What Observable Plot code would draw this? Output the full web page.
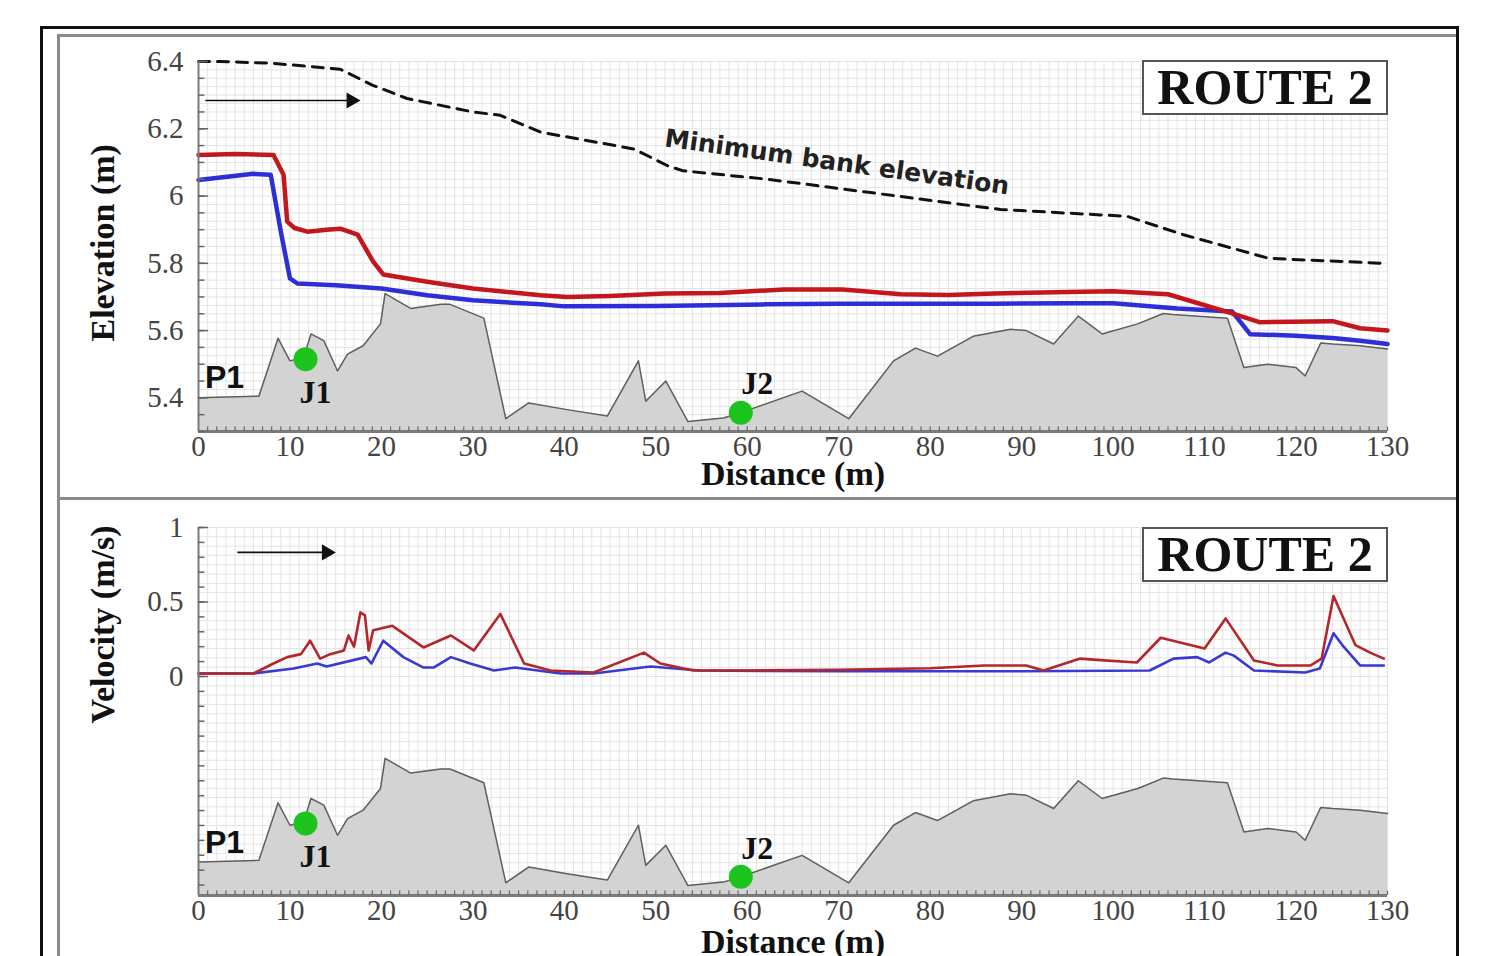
<!DOCTYPE html>
<html><head><meta charset="utf-8">
<script src="https://cdn.jsdelivr.net/npm/d3@7"></script>
<script src="https://cdn.jsdelivr.net/npm/@observablehq/plot@0.6"></script>
<style>
body{margin:0;background:#fff;width:1493px;height:956px;overflow:hidden;position:relative;font-family:"Liberation Serif",serif}
#outer{position:absolute;left:40px;top:26px;width:1413px;height:960px;border:3px solid #111;border-bottom:none}
.panel{position:absolute;left:57px;width:1396px;border:3px solid #8a8a8a;border-right:none}
#p1{top:34px;height:460px}
#p2{top:497px;height:480px;border-bottom:none}
.route{position:absolute;left:1142px;width:242px;height:51px;border:2px solid #555;background:#fff;
 font:bold 50px "Liberation Serif",serif;color:#111;text-align:center;line-height:51px;z-index:5}
svg.plot{position:absolute;left:58px;z-index:3}
</style></head>
<body>
<div id="outer"></div>
<div class="panel" id="p1"></div>
<div class="panel" id="p2"></div>
<div class="route" style="top:60px">ROUTE 2</div>
<div class="route" style="top:527px">ROUTE 2</div>
<script>
// ---------- data ----------
const xTickLabels = [0,10,20,30,40,50,60,70,80,90,100,110,120,130];
const elevTickLabels = [5.4,5.6,5.8,6,6.2,6.4];
const velTickLabels = [0,0.5,1];

const terrainX = [0,6.6,8.7,10,11.5,12.3,13.7,15.2,16.3,18,19.9,20.4,23.2,26.5,27.5,31.2,33.6,36.1,40.3,44.7,48.1,48.9,51.1,53.5,57.4,59.3,66,71.1,76,78.4,80.8,84.7,88.8,90.5,93.5,96.2,98.8,102.7,105.5,106.5,112.5,114.3,116.9,120,121,122.7,124,127,130];
const terrainElev = [5.4,5.405,5.577,5.51,5.52,5.59,5.57,5.48,5.53,5.555,5.62,5.71,5.666,5.678,5.678,5.637,5.338,5.385,5.365,5.346,5.51,5.39,5.45,5.33,5.34,5.356,5.42,5.338,5.51,5.548,5.524,5.583,5.604,5.60,5.56,5.643,5.59,5.62,5.651,5.648,5.637,5.49,5.50,5.49,5.465,5.563,5.56,5.555,5.545];

const maxWseX = [0,4,8.2,9.3,9.7,10.5,11.9,14,15.5,17.4,19.1,20.2,25,30,37.4,40.3,45,51,57,64,70.4,76.8,82,87,95,100,106,113,116,124,127,130];
const maxWseY = [6.122,6.125,6.122,6.063,5.924,5.905,5.894,5.9,5.903,5.885,5.805,5.767,5.745,5.725,5.705,5.70,5.703,5.71,5.712,5.722,5.722,5.708,5.706,5.71,5.715,5.717,5.708,5.651,5.625,5.628,5.607,5.600];

const wseX = [0,6,7.9,9,10,10.8,15,20,25,30,37.4,40,50,62,70,77,87,95,100,107,113,115,120,124,127,130];
const wseY = [6.048,6.066,6.063,5.894,5.755,5.74,5.735,5.725,5.705,5.69,5.678,5.672,5.673,5.678,5.68,5.68,5.68,5.681,5.681,5.666,5.657,5.589,5.585,5.578,5.57,5.56];

const bankX = [0,2.4,8,15.5,19,22.8,30,33,37.4,47.6,51.3,53,62.2,73,82,87.7,98.6,101.5,107.7,113,117,121,129.6];
const bankY = [6.4,6.4,6.395,6.377,6.33,6.29,6.25,6.24,6.19,6.14,6.09,6.075,6.05,6.012,5.98,5.96,5.944,5.94,5.885,5.845,5.815,5.81,5.80];

const velMaxX = [0,6,8.2,9.7,11.2,12.2,13.3,14.4,15.9,16.4,17,17.7,18.2,18.6,19.1,21.2,24.6,27.6,30.1,33,35.6,38.5,43.2,48.7,50.5,54.1,60,70,80,85.9,90.5,92.4,96.4,98.6,102.6,105.2,110,112.3,115.4,118,121.6,122.8,124.1,126.5,128.1,129.6];
const velMaxY = [0.02,0.02,0.087,0.13,0.15,0.24,0.12,0.15,0.175,0.275,0.2,0.43,0.41,0.175,0.31,0.34,0.195,0.275,0.175,0.42,0.087,0.04,0.027,0.16,0.087,0.04,0.04,0.045,0.055,0.074,0.074,0.04,0.12,0.11,0.094,0.26,0.188,0.39,0.107,0.074,0.074,0.12,0.54,0.21,0.16,0.12];

const velX = [0,6,10.4,13,14,18.3,18.9,20.2,22.4,24.6,25.7,27.6,29.7,32.3,34.6,39.6,43.2,49.4,54.8,70,90,104,106.6,109.2,110.5,112.3,113.2,115.4,121,122.6,124.1,125.2,127,129.6];
const velY = [0.02,0.02,0.054,0.087,0.067,0.13,0.087,0.24,0.13,0.06,0.06,0.13,0.087,0.04,0.06,0.02,0.02,0.067,0.04,0.035,0.035,0.04,0.12,0.13,0.094,0.16,0.14,0.04,0.027,0.054,0.29,0.2,0.074,0.074];

const junctionNames = ["J1","J2"];
const junctionX = [11.7,59.3];
const junctionElev = [5.515,5.356];

// ---------- helpers ----------
const zip = (xs, ys) => xs.map((x,i)=>({x, y: ys[i]}));
const ELEV = [5.3, 6.4], VEL = [-1.47, 1.0];
const toV = e => VEL[0] + (e - ELEV[0]) * (VEL[1]-VEL[0])/(ELEV[1]-ELEV[0]);

const terrain = zip(terrainX, terrainElev);
const junctions = junctionNames.map((n,i)=>({n, x: junctionX[i], y: junctionElev[i]}));

const GRID = "#e4e4e4", AX = "#7a7a7a", TICKC = "#444";
const serif = "Liberation Serif";

function panel(opts) {
  const {yDomain, gridY, minorY, yTicks, yFmt, conv, marks, yLabel, yLabelDy, height, mt, mb, xLabelDy, arrowY, arrowX1, arrowX2} = opts;
  const y0 = yDomain[0];
  const ySpan = yDomain[1]-yDomain[0];
  const ter = terrain.map(d=>({x:d.x, y: conv(d.y)}));
  const jn = junctions.map(d=>({...d, y: conv(d.y)}));
  return Plot.plot({
    width: 1397, height, marginLeft: 140, marginRight: 68, marginTop: mt, marginBottom: mb,
    x: {domain: [0,130]}, y: {domain: yDomain},
    style: {background: "transparent", overflow: "visible"},
    className: "plot",
    marks: [
      Plot.ruleX(d3.range(1,131), {stroke: GRID, strokeWidth: 1}),
      Plot.ruleY(gridY, {stroke: GRID, strokeWidth: 1}),
      Plot.areaY(ter, {x: "x", y1: y0, y2: "y", fill: "#d3d3d3"}),
      Plot.line(ter, {x: "x", y: "y", stroke: "#5f5f5f", strokeWidth: 1.5}),
      ...marks,
      // flow arrow
      Plot.ruleY([arrowY], {x1: arrowX1, x2: arrowX2 - 1.2, stroke: "#111", strokeWidth: 1.6}),
      Plot.dot([{x: arrowX2 - 1.0, y: arrowY}], {x: "x", y: "y", symbol: "triangle", rotate: 90, r: 6, fill: "#111", stroke: "none"}),
      // junctions
      Plot.dot(jn, {x: "x", y: "y", r: 12, fill: "#1ec41e", stroke: "none"}),
      Plot.text([{t:"P1", x: 0.7, y: conv(5.459)}], {x: "x", y: "y", text: "t", textAnchor: "start",
        fontFamily: "Liberation Sans", fontWeight: "bold", fontSize: 32, fill: "#111"}),
      Plot.text(jn, {x: d => d.x + (d.n==="J1" ? 1.1 : 1.8), y: d => d.n==="J1" ? conv(5.415) : conv(5.441), text: "n",
        fontFamily: serif, fontWeight: "bold", fontSize: 32, fill: "#111"}),
      // axes
      Plot.ruleX([0], {stroke: AX, strokeWidth: 2}),
      Plot.ruleY([y0], {stroke: AX, strokeWidth: 3}),
      Plot.ruleY(minorY, {x1: 0, x2: 0.7, stroke: "#666", strokeWidth: 1.5}),
      Plot.ruleY(yTicks, {x1: 0, x2: 1.1, stroke: "#666", strokeWidth: 1.5}),
      Plot.ruleX(d3.range(1,131), {y1: y0, y2: y0 + ySpan*0.012, stroke: "#666", strokeWidth: 1.2}),
      Plot.axisX({ticks: xTickLabels, tickSize: 0, tickPadding: 4, fontSize: 29, fontFamily: serif, color: TICKC, label: null, tickFormat: d => String(d)}),
      Plot.axisY({ticks: yTicks, tickSize: 0, tickPadding: 15, fontSize: 29, fontFamily: serif, color: TICKC, label: null, tickFormat: yFmt}),
      Plot.text(["Distance (m)"], {text: d => d, frameAnchor: "bottom", dy: xLabelDy, fontFamily: serif, fontWeight: "bold", fontSize: 34, fill: "#111"}),
      Plot.text([yLabel], {text: d => d, frameAnchor: "left", rotate: -90, dx: -95, dy: yLabelDy, fontFamily: serif, fontWeight: "bold", fontSize: 34, fill: "#111"})
    ]
  });
}

const fmt1 = d => String(+(+d).toFixed(1));

const topPlot = panel({
  yDomain: ELEV, height: 463, mt: 26, mb: 67, xLabelDy: 53,
  gridY: d3.range(0,45).map(i => 5.3 + i*0.025),
  minorY: d3.range(0,23).map(i => 5.3 + i*0.05),
  yTicks: elevTickLabels, yFmt: fmt1, conv: e => e,
  yLabel: "Elevation (m)", yLabelDy: 95,
  arrowY: 6.284, arrowX1: 0.8, arrowX2: 17.7,
  marks: [
    Plot.line(zip(bankX, bankY), {x: "x", y: "y", stroke: "#111", strokeWidth: 3, strokeDasharray: "11,8"}),
    Plot.text([{t: "Minimum bank elevation", x: 69.8, y: 6.10}], {x: "x", y: "y", text: "t", rotate: 8,
      fontFamily: "DejaVu Sans", fontWeight: "bold", fontSize: 25, fill: "#222"}),
    Plot.line(zip(wseX, wseY), {x: "x", y: "y", stroke: "#2e2ed8", strokeWidth: 4.5}),
    Plot.line(zip(maxWseX, maxWseY), {x: "x", y: "y", stroke: "#c3161d", strokeWidth: 4.5})
  ]
});
topPlot.style.top = "35px";
document.body.appendChild(topPlot);

const botPlot = panel({
  yDomain: VEL, height: 454, mt: 25, mb: 61, xLabelDy: 57,
  gridY: d3.range(0,40).map(i => 1 - i*0.0625),
  minorY: d3.range(0,25).map(i => 1 - i*0.1),
  yTicks: velTickLabels, yFmt: fmt1, conv: toV,
  yLabel: "Velocity (m/s)", yLabelDy: 12,
  arrowY: 0.833, arrowX1: 4.3, arrowX2: 15.0,
  marks: [
    Plot.line(zip(velX, velY), {x: "x", y: "y", stroke: "#3a3ad2", strokeWidth: 2.6}),
    Plot.line(zip(velMaxX, velMaxY), {x: "x", y: "y", stroke: "#b3262b", strokeWidth: 2.6})
  ]
});
botPlot.style.top = "502px";
document.body.appendChild(botPlot);
</script>
</body></html>
